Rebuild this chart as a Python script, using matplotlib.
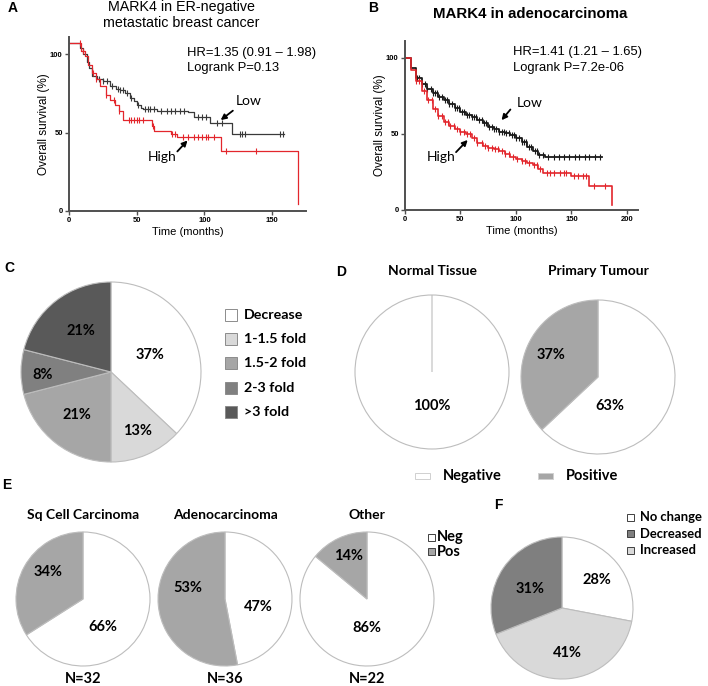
import numpy as np
import matplotlib
matplotlib.use("Agg")
import matplotlib.pyplot as plt
from matplotlib.patches import Rectangle

W, H = 708, 686
ARIAL = "Liberation Sans"
CAL = "Lato"
EDGE = "#bdbdbd"
RED = "#e3262c"
BLACK = "#3a3a3a"

# ---- panel A: ER-negative metastatic breast cancer (KM) ----
a_low_t = [0, 8, 10, 13, 15, 17, 21, 25, 30, 35, 38, 41, 45, 48, 50, 53, 55, 65, 88, 92, 104, 120, 159]
a_low_s = [107, 104, 100, 95, 91, 86, 84, 83, 80, 78, 77, 75, 72, 70, 67.5, 66, 64.8, 64, 63, 60, 56, 49, 49]
a_high_t = [0, 8, 9, 12, 14, 17, 20, 23, 27, 30, 34, 37, 40, 60, 61, 63, 75, 80, 112, 169, 169]
a_high_s = [107, 107, 102, 99, 93, 88, 84, 80, 74, 71, 67.5, 64, 58, 58, 54, 51, 49, 47, 38, 38, 4.5]
a_low_cens = [22, 25, 28, 32, 36, 38, 40, 43, 46, 51, 56, 58, 60, 63, 68, 72, 75, 78, 82, 85,
              95, 98, 101, 109, 113, 126, 128, 130, 156, 158]
a_high_cens = [8, 10, 18, 20, 27, 33, 37, 44, 46, 48, 50, 52, 55, 62, 76, 78, 84, 88, 92, 95,
               98, 101, 103, 107, 116, 138]

# ---- panel B: adenocarcinoma (KM) ----
b_low_t = [0, 5, 10, 15, 20, 25, 30, 35, 40, 45, 50, 55, 60, 65, 70, 75, 80, 85, 90, 95,
           100, 105, 110, 115, 120, 126, 178]
b_low_s = [100, 93, 87, 83, 79.5, 77, 74.5, 72, 69.5, 67, 64.5, 62.5, 61, 59, 57, 54.5, 53, 51.5,
           50.5, 49, 47, 44.5, 41.5, 38.5, 36, 34.5, 34.5]
b_high_t = [0, 5, 10, 15, 20, 25, 30, 35, 40, 45, 50, 55, 60, 65, 70, 75, 80, 85, 90, 95,
            100, 105, 110, 115, 120, 124, 150, 166, 187, 187]
b_high_s = [100, 92, 85, 78, 72, 66.5, 62, 58, 55, 53, 51.5, 50, 47, 44, 42, 41, 40, 38.5, 37, 35,
            33.5, 32, 31, 29.5, 27, 24.5, 22.5, 16, 16, 3.5]
b_low_cens = [11, 13, 15, 18, 20, 23, 25, 27, 29, 31, 33, 36, 38, 40, 42, 45, 47, 49, 51, 53, 56,
              58, 60, 62, 64, 67, 69, 71, 73, 76, 78, 80, 82, 85, 87, 89, 91, 94, 96, 98, 100,
              103, 105, 107, 109, 112, 114, 117, 119, 121, 124, 129, 134, 139, 143, 148, 153,
              157, 162, 166, 171, 176]
b_high_cens = [10, 13, 17, 21, 24, 27, 30, 33, 36, 39, 41, 44, 47, 50, 53, 56, 59, 62, 65, 69,
               72, 75, 78, 81, 84, 87, 90, 94, 97, 101, 105, 108, 112, 116, 119, 122, 128, 131,
               134, 140, 143, 145, 152, 156, 160, 163, 170, 180]

# ---- panel C ----
c_labels = ["Decrease", "1-1.5 fold", "1.5-2 fold", "2-3 fold", ">3 fold"]
c_values = [37, 13, 21, 8, 21]
c_colors = ["#ffffff", "#d9d9d9", "#a6a6a6", "#808080", "#595959"]

# ---- panel D ----
d_groups = ["Normal Tissue", "Primary Tumour"]
d_labels = ["Negative", "Positive"]
d_values = [[100, 0], [63, 37]]
d_colors = ["#ffffff", "#a6a6a6"]

# ---- panel E ----
e_groups = ["Sq Cell Carcinoma", "Adenocarcinoma", "Other"]
e_n = [32, 36, 22]
e_labels = ["Neg", "Pos"]
e_values = [[66, 34], [47, 53], [86, 14]]
e_colors = ["#ffffff", "#a6a6a6"]

# ---- panel F ----
f_labels = ["No change", "Decreased", "Increased"]
f_values = [28, 41, 31]          # clockwise: No change, Increased, Decreased
f_slice_names = ["No change", "Increased", "Decreased"]
f_colors = {"No change": "#ffffff", "Increased": "#d9d9d9", "Decreased": "#7f7f7f"}

fig = plt.figure(figsize=(W / 100, H / 100), dpi=100)
ov = fig.add_axes([0, 0, 1, 1])
ov.set_xlim(0, W)
ov.set_ylim(H, 0)
ov.axis("off")


def px_axes(x0, y0, x1, y1):
    return fig.add_axes([x0 / W, 1 - y1 / H, (x1 - x0) / W, (y1 - y0) / H])


def txt(x, y, s, size=10.5, weight="bold", family=CAL, ha="center", **kw):
    ov.text(x, y, s, fontsize=size, fontweight=weight, family=family, ha=ha, va="center", **kw)


def step_value(t, s, c):
    return s[np.searchsorted(t, c, side="right") - 1]


def km_panel(rect, xmax, xticks, curves):
    ax = px_axes(*rect)
    ax.set_facecolor("none")
    for t, s, cens, col, lw in curves:
        ax.step(t, s, where="post", color=col, lw=lw)
        cs = [step_value(t, s, c) for c in cens]
        ax.plot(cens, cs, ls="none", marker="|", ms=4, mew=0.8, color=col)
    ax.set_xlim(0, xmax)
    ax.set_ylim(0, 111)
    ax.set_xticks(xticks)
    ax.set_yticks([0, 50, 100])
    for sp in ["top", "right"]:
        ax.spines[sp].set_visible(False)
    for sp in ["left", "bottom"]:
        ax.spines[sp].set_color("#505050")
        ax.spines[sp].set_linewidth(1.4)
    ax.tick_params(length=3, width=1, color="#505050", pad=1.5)
    for lab in ax.get_xticklabels() + ax.get_yticklabels():
        lab.set_fontsize(5.5)
        lab.set_fontweight("bold")
        lab.set_family(ARIAL)
    ax.set_xlabel("Time (months)", fontsize=8, family=ARIAL, labelpad=2)
    ax.set_ylabel("Overall survival (%)", fontsize=8.5, family=ARIAL, labelpad=0)
    return ax


def arrow(ax, tail, head):
    ax.annotate("", xy=head, xytext=tail,
                arrowprops=dict(arrowstyle="-|>", color="black", lw=1.3, mutation_scale=8,
                                shrinkA=0, shrinkB=0))


# panel A
axA = km_panel((69, 37, 306, 211), 175, [0, 50, 100, 150],
               [(a_low_t, a_low_s, a_low_cens, BLACK, 0.9),
                (a_high_t, a_high_s, a_high_cens, RED, 0.9)])
axA.text(133, 70, "Low", fontsize=10, family=CAL, ha="center", va="center")
axA.text(68.5, 34.5, "High", fontsize=10, family=CAL, ha="center", va="center")
arrow(axA, (121, 64), (112, 58))
arrow(axA, (80, 38), (87.5, 45))
txt(181, 7, "MARK4 in ER-negative", size=10.3, weight="normal", family=ARIAL)
txt(181, 23, "metastatic breast cancer", size=10.3, weight="normal", family=ARIAL)
txt(187, 53, "HR=1.35 (0.91 \u2013 1.98)", size=9.4, weight="normal", family=ARIAL, ha="left")
txt(187, 68.5, "Logrank P=0.13", size=9.4, weight="normal", family=ARIAL, ha="left")
txt(13, 8, "A", size=10, family=ARIAL)

# panel B
axB = km_panel((405, 41, 638, 210), 210, [0, 50, 100, 150, 200],
               [(b_low_t, b_low_s, b_low_cens, "#1a1a1a", 1.3),
                (b_high_t, b_high_s, b_high_cens, RED, 1.2)])
axB.text(112, 70.5, "Low", fontsize=10, family=CAL, ha="center", va="center")
axB.text(33, 35, "High", fontsize=10, family=CAL, ha="center", va="center")
arrow(axB, (95, 66), (87, 59))
arrow(axB, (46, 38), (56.5, 46))
txt(530, 14, "MARK4 in adenocarcinoma", size=10.8, family=ARIAL)
txt(513, 52, "HR=1.41 (1.21 \u2013 1.65)", size=9.4, weight="normal", family=ARIAL, ha="left")
txt(513, 68, "Logrank P=7.2e-06", size=9.4, weight="normal", family=ARIAL, ha="left")
txt(373, 8, "B", size=10, family=ARIAL)


def pie(cx, cy, r, vals, colors, label_pos, fs=10.5):
    pad = 1.06
    ax = fig.add_axes([(cx - r * pad) / W, 1 - (cy + r * pad) / H, 2 * r * pad / W, 2 * r * pad / H])
    wedges, _, autotexts = ax.pie(
        vals, colors=colors, startangle=90, counterclock=False,
        wedgeprops=dict(edgecolor=EDGE, linewidth=0.8),
        autopct=lambda p: f"{p:.0f}%" if p > 0 else "",
        textprops=dict(fontsize=fs, fontweight="bold", family=CAL))
    for t, pos in zip([a for a, v in zip(autotexts, vals) if v > 0], label_pos):
        t.set_position(pos)
    ax.set_xlim(-pad, pad)
    ax.set_ylim(-pad, pad)
    return ax


# panel C
pie(111, 372, 90, c_values, c_colors,
    [(0.43, 0.19), (0.30, -0.66), (-0.38, -0.48), (-0.76, -0.03), (-0.33, 0.46)])
txt(9, 268, "C", size=10, family=ARIAL)
for i, (lab, col) in enumerate(zip(c_labels, c_colors)):
    y = 315 + i * 24.2
    ov.add_patch(Rectangle((225, y - 6), 12, 12, facecolor=col, edgecolor="#8c8c8c", lw=0.7))
    txt(244, y, lab, size=10.3, ha="left")

# panel D
txt(341, 272, "D", size=10, family=ARIAL)
d_pos = [[(0, -0.44)], [(0.16, -0.38), (-0.61, 0.29)]]
for (cx, cy), grp, vals, lp in zip([(432, 372), (598, 377)], d_groups, d_values, d_pos):
    pie(cx, cy, 77, vals, d_colors, lp)
    txt(cx, 271, grp, size=10)
for x, lab, col in zip([415, 538], d_labels, d_colors):
    ov.add_patch(Rectangle((x, 473), 15, 6, facecolor=col, edgecolor="#d0d0d0", lw=0.7))
    txt(x + 28, 476, lab, size=10.5, ha="left")

# panel E
txt(7, 485, "E", size=10, family=ARIAL)
e_pos = [[(0.30, -0.42), (-0.52, 0.40)],
         [(0.49, -0.12), (-0.56, 0.16)],
         [(0.0, -0.43), (-0.28, 0.64)]]
for cx, grp, n, vals, lp in zip([83, 225, 367], e_groups, e_n, e_values, e_pos):
    pie(cx, 599, 67, vals, e_colors, lp)
    txt(cx, 515, grp, size=10)
    txt(cx, 679, f"N={n}", size=10.5)
for i, (lab, col) in enumerate(zip(e_labels, e_colors)):
    y = 537 + i * 14.5
    ov.add_patch(Rectangle((428, y - 3.5), 7, 7, facecolor=col, edgecolor="#404040", lw=0.7))
    txt(437, y, lab, size=10.5, ha="left")

# panel F
txt(498, 505, "F", size=10, family=ARIAL)
pie(562, 608, 71, f_values, [f_colors[k] for k in f_slice_names],
    [(0.49, 0.39), (0.07, -0.63), (-0.45, 0.27)])
for i, lab in enumerate(f_labels):
    y = 517 + i * 16.5
    ov.add_patch(Rectangle((627, y - 3.5), 7, 7, facecolor=f_colors[lab], edgecolor="#404040", lw=0.7))
    txt(640, y, lab, size=9.4, ha="left")

fig.savefig("out.png", dpi=100, facecolor="white")
